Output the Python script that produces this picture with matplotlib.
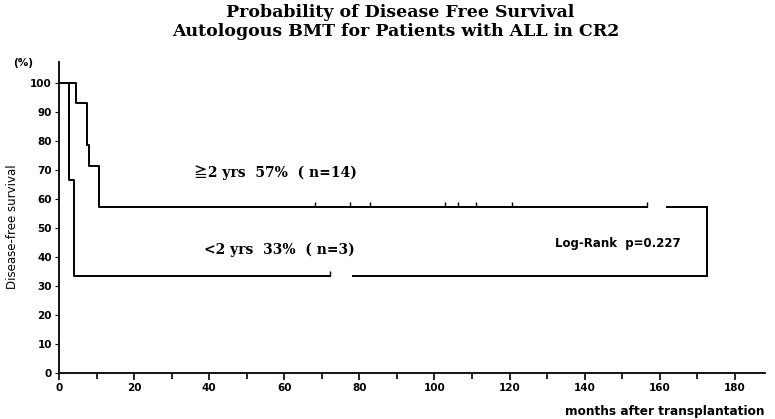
import numpy as np
import matplotlib.pyplot as plt

# >= 2 yrs group (n=14)
long_t = [0, 4.5, 7.4, 8.0, 10.6, 156.6]
long_s = [100, 92.9, 78.6, 71.4, 57.1, 57.1]
long_tail = [161.9, 172.6]
long_censor = [68.2, 77.5, 82.8, 102.8, 106.3, 111.1, 120.6, 156.6]

# < 2 yrs group (n=3)
short_t = [0, 2.7, 4.0, 72.2]
short_s = [100, 66.7, 33.3, 33.3]
short_tail = [78.3, 172.6]
short_censor = [72.2]

x_major = [0, 20, 40, 60, 80, 100, 120, 140, 160, 180]
y_major = [0, 10, 20, 30, 40, 50, 60, 70, 80, 90, 100]

fig = plt.figure(figsize=(7.75, 4.19), dpi=100)
ax = fig.add_axes([0.0761, 0.1098, 0.9109, 0.7422])

lw = 1.4
ax.step(long_t, long_s, where='post', color='black', lw=lw)
ax.plot(long_tail, [long_s[-1]] * 2, color='black', lw=lw)
ax.step(short_t, short_s, where='post', color='black', lw=lw)
ax.plot(short_tail, [short_s[-1]] * 2, color='black', lw=lw)
# closing line at the right end
ax.plot([long_tail[-1]] * 2, [short_s[-1], long_s[-1]], color='black', lw=lw)

ax.vlines(long_censor, long_s[-1], long_s[-1] + 1.8, color='black', lw=1.0)
ax.vlines(short_censor, short_s[-1], short_s[-1] + 1.8, color='black', lw=1.0)

ax.set_xlim(0, 188)
ax.set_ylim(0, 107.2)
ax.spines['top'].set_visible(False)
ax.spines['right'].set_visible(False)
ax.spines['left'].set_linewidth(1.3)
ax.spines['bottom'].set_linewidth(1.3)

ax.set_xticks(x_major)
ax.set_xticks(np.arange(10, 190, 20), minor=True)
ax.set_yticks(y_major)
ax.tick_params(axis='x', direction='out', length=5, width=1.2, pad=2)
ax.tick_params(axis='x', which='minor', direction='out', length=4, width=1.2)
ax.tick_params(axis='y', direction='out', length=3, width=0.8, pad=2)

sans = ['DejaVu Sans']
tick_font = dict(family=sans, weight='bold', size=7.5)
ax.set_xticklabels([str(v) for v in x_major], **tick_font)
ax.set_yticklabels([str(v) for v in y_major], **tick_font)

serif = ['DejaVu Serif', 'Noto Sans CJK JP']
fig.text(0.516, 0.97, 'Probability of Disease Free Survival', ha='center', va='center',
         family=serif, weight='bold', size=12.5)
fig.text(0.51, 0.925, 'Autologous BMT for Patients with ALL in CR2', ha='center', va='center',
         family=serif, weight='bold', size=12.5)

fig.text(0.03, 0.85, '(%)', ha='center', va='center', family=sans,
         weight='bold', size=7.5)
fig.text(0.016, 0.46, 'Disease-free survival', ha='center', va='center', rotation=90,
         family=sans, size=8.5)
fig.text(0.987, 0.018, 'months after transplantation', ha='right', va='center',
         family=sans, weight='bold', size=8.7)

ax.text(36, 69, '\u22672 yrs  57%  ( n=14)', family=serif, weight='bold', size=10,
        ha='left', va='center')
ax.text(38.5, 42.5, '<2 yrs  33%  ( n=3)', family=serif, weight='bold', size=10,
        ha='left', va='center')
ax.text(132, 44.5, 'Log-Rank  p=0.227', family=sans,
        weight='bold', size=8.5, ha='left', va='center')

fig.savefig('out.png', dpi=100)
